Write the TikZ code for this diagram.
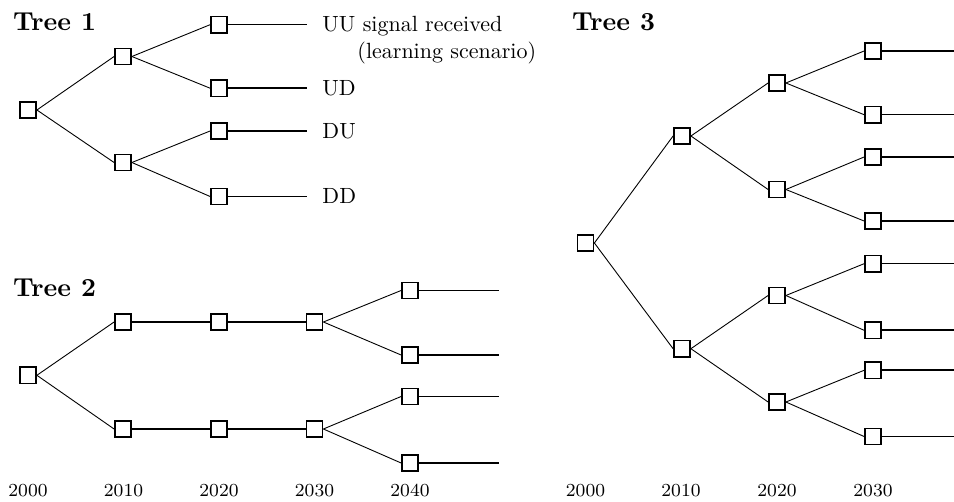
\documentclass[tikz,border=0pt]{standalone}
\begin{document}
\begin{tikzpicture}[x=1pt,y=-1pt,
  box/.style={draw, line width=1.5pt, minimum size=16.3pt, inner sep=0pt, fill=white},
  branch/.style={line width=0.9pt},
  stem/.style={line width=1.6pt},
  lbl/.style={anchor=base west, inner sep=0pt, font=\fontsize{10}{12}\selectfont, scale=2.2, transform shape},
  yr/.style={anchor=base, inner sep=0pt, font=\fontsize{8}{10}\selectfont, scale=2.3, transform shape},
  ttl/.style={anchor=base west, inner sep=0pt, font=\fontsize{10}{12}\selectfont\bfseries, scale=2.6, transform shape}]
\useasboundingbox (0,0) rectangle (954,502);

% ---------------- Tree 1 ----------------
\node[ttl] (title1) at (12.5,30.7) {Tree 1};
\node[box] (a0) at (28,110) {};
\node[box] (a1) at (123,56.5) {};
\node[box] (a2) at (123,162.5) {};
\node[box] (a11) at (219,24.7) {};
\node[box] (a12) at (219,88.2) {};
\node[box] (a21) at (219,131) {};
\node[box] (a22) at (219,196.5) {};
\coordinate (ae11) at (307,24.7);
\coordinate (ae12) at (307,88.2);
\coordinate (ae21) at (307,131);
\coordinate (ae22) at (307,196.5);
\draw[branch] (a0.east) -- (a1.west);
\draw[branch] (a0.east) -- (a2.west);
\draw[branch] (a1.east) -- (a11.west);
\draw[branch] (a1.east) -- (a12.west);
\draw[branch] (a2.east) -- (a21.west);
\draw[branch] (a2.east) -- (a22.west);
\draw[stem] (a11.east) -- (ae11);
\draw[stem] (a12.east) -- (ae12);
\draw[stem] (a21.east) -- (ae21);
\draw[stem] (a22.east) -- (ae22);
\node[lbl] (l11) at (322,31.9) {UU signal received};
\node[lbl] (l11b) at (357,58.5) {(learning scenario)};
\node[lbl] (l12) at (322,95.5) {UD};
\node[lbl] (l21) at (322,138.3) {DU};
\node[lbl] (l22) at (322,203.8) {DD};

% ---------------- Tree 2 ----------------
\node[ttl] (title2) at (12.5,297) {Tree 2};
\node[box] (b0) at (28,375.3) {};
\node[box] (b1) at (123,322) {};
\node[box] (b2) at (123,429) {};
\node[box] (b1m) at (219,322) {};
\node[box] (b2m) at (219,429) {};
\node[box] (b1n) at (314.5,322) {};
\node[box] (b2n) at (314.5,429) {};
\node[box] (b11) at (410,290.5) {};
\node[box] (b12) at (410,355) {};
\node[box] (b21) at (410,396.5) {};
\node[box] (b22) at (410,463) {};
\coordinate (be11) at (499,290.5);
\coordinate (be12) at (499,355);
\coordinate (be21) at (499,396.5);
\coordinate (be22) at (499,463);
\draw[branch] (b0.east) -- (b1.west);
\draw[branch] (b0.east) -- (b2.west);
\draw[stem] (b1.east) -- (b1m.west);
\draw[stem] (b1m.east) -- (b1n.west);
\draw[stem] (b2.east) -- (b2m.west);
\draw[stem] (b2m.east) -- (b2n.west);
\draw[branch] (b1n.east) -- (b11.west);
\draw[branch] (b1n.east) -- (b12.west);
\draw[branch] (b2n.east) -- (b21.west);
\draw[branch] (b2n.east) -- (b22.west);
\draw[stem] (b11.east) -- (be11);
\draw[stem] (b12.east) -- (be12);
\draw[stem] (b21.east) -- (be21);
\draw[stem] (b22.east) -- (be22);
\node[yr] (y20a) at (28,496.5) {2000};
\node[yr] (y21a) at (123.5,496.5) {2010};
\node[yr] (y22a) at (219,496.5) {2020};
\node[yr] (y23a) at (314.5,496.5) {2030};
\node[yr] (y24a) at (410,496.5) {2040};

% ---------------- Tree 3 ----------------
\node[ttl] (title3) at (571.5,30.7) {Tree 3};
\node[box] (c0) at (585.5,243) {};
\node[box] (c1) at (682,136) {};
\node[box] (c2) at (682,348.7) {};
\node[box] (c11) at (777,83) {};
\node[box] (c12) at (777,189.5) {};
\node[box] (c21) at (777,295.5) {};
\node[box] (c22) at (777,402) {};
\node[box] (c111) at (873,51) {};
\node[box] (c112) at (873,114.7) {};
\node[box] (c121) at (873,157) {};
\node[box] (c122) at (873,221) {};
\node[box] (c211) at (873,263.7) {};
\node[box] (c212) at (873,330.3) {};
\node[box] (c221) at (873,370.3) {};
\node[box] (c222) at (873,436.5) {};
\coordinate (ce111) at (954,51);
\coordinate (ce112) at (954,114.7);
\coordinate (ce121) at (954,157);
\coordinate (ce122) at (954,221);
\coordinate (ce211) at (954,263.7);
\coordinate (ce212) at (954,330.3);
\coordinate (ce221) at (954,370.3);
\coordinate (ce222) at (954,436.5);
\draw[branch] (c0.east) -- (c1.west);
\draw[branch] (c0.east) -- (c2.west);
\draw[branch] (c1.east) -- (c11.west);
\draw[branch] (c1.east) -- (c12.west);
\draw[branch] (c2.east) -- (c21.west);
\draw[branch] (c2.east) -- (c22.west);
\draw[branch] (c11.east) -- (c111.west);
\draw[branch] (c11.east) -- (c112.west);
\draw[branch] (c12.east) -- (c121.west);
\draw[branch] (c12.east) -- (c122.west);
\draw[branch] (c21.east) -- (c211.west);
\draw[branch] (c21.east) -- (c212.west);
\draw[branch] (c22.east) -- (c221.west);
\draw[branch] (c22.east) -- (c222.west);
\draw[stem] (c111.east) -- (ce111);
\draw[stem] (c112.east) -- (ce112);
\draw[stem] (c121.east) -- (ce121);
\draw[stem] (c122.east) -- (ce122);
\draw[stem] (c211.east) -- (ce211);
\draw[stem] (c212.east) -- (ce212);
\draw[stem] (c221.east) -- (ce221);
\draw[stem] (c222.east) -- (ce222);
\node[yr] (y20b) at (585.5,496.5) {2000};
\node[yr] (y21b) at (681,496.5) {2010};
\node[yr] (y22b) at (777,496.5) {2020};
\node[yr] (y23b) at (873,496.5) {2030};
\end{tikzpicture}
\end{document}
